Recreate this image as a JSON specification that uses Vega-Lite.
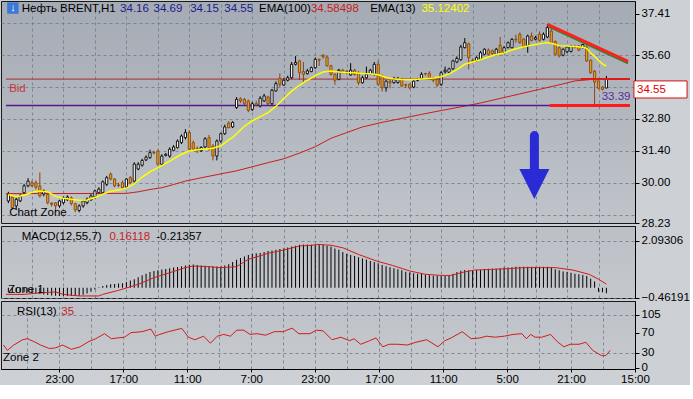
{
"$schema": "https://vega.github.io/schema/vega-lite/v6.json",
"padding": 0,
"background": "#cdd0d5",
"spacing": 3,
"bounds": "flush",
"resolve": {"scale": {"x": "independent", "y": "independent", "color": "independent"}, "axis": {"x": "independent", "y": "independent"}},
"config": {
  "view": {"stroke": "#1a1a1a", "strokeWidth": 1},
  "axis": {"labelFont": "Liberation Sans", "labelFontSize": 11.5, "labelColor": "#000000", "domainColor": "#000000", "tickColor": "#000000", "title": null},
  "text": {"font": "Liberation Sans", "fontSize": 11.5}
},
"datasets": {
"candles": [
{"i":0,"o":29.20,"h":29.60,"l":29.10,"c":29.49},{"i":1,"o":29.37,"h":29.45,"l":28.80,"c":28.90},{"i":2,"o":28.98,"h":29.35,"l":28.85,"c":29.27},{"i":3,"o":29.20,"h":29.50,"l":29.15,"c":29.42},{"i":4,"o":29.56,"h":29.95,"l":29.50,"c":29.86},{"i":5,"o":29.86,"h":30.20,"l":29.80,"c":30.07},{"i":6,"o":30.00,"h":30.10,"l":29.80,"c":29.86},{"i":7,"o":30.00,"h":30.10,"l":29.70,"c":29.80},{"i":8,"o":29.86,"h":30.45,"l":29.35,"c":29.42},{"i":9,"o":29.50,"h":29.70,"l":29.40,"c":29.64},
{"i":10,"o":29.49,"h":29.55,"l":29.05,"c":29.12},{"i":11,"o":29.10,"h":29.15,"l":28.95,"c":29.05},{"i":12,"o":29.12,"h":29.15,"l":28.70,"c":28.98},{"i":13,"o":28.98,"h":29.25,"l":28.90,"c":29.20},{"i":14,"o":29.12,"h":29.40,"l":29.05,"c":29.33},{"i":15,"o":29.25,"h":29.45,"l":29.20,"c":29.37},{"i":16,"o":29.33,"h":29.40,"l":29.00,"c":29.08},{"i":17,"o":29.08,"h":29.12,"l":28.70,"c":28.80},{"i":18,"o":28.78,"h":29.05,"l":28.70,"c":28.98},{"i":19,"o":28.98,"h":29.25,"l":28.90,"c":29.20},
{"i":20,"o":29.12,"h":29.35,"l":29.05,"c":29.27},{"i":21,"o":29.25,"h":29.50,"l":29.20,"c":29.42},{"i":22,"o":29.37,"h":29.70,"l":29.30,"c":29.64},{"i":23,"o":29.56,"h":29.80,"l":29.50,"c":29.72},{"i":24,"o":29.56,"h":30.10,"l":29.50,"c":30.04},{"i":25,"o":29.93,"h":30.30,"l":29.85,"c":30.22},{"i":26,"o":30.38,"h":30.45,"l":30.10,"c":30.16},{"i":27,"o":30.16,"h":30.20,"l":29.80,"c":29.86},{"i":28,"o":29.90,"h":30.00,"l":29.80,"c":29.88},{"i":29,"o":30.00,"h":30.10,"l":29.70,"c":29.78},
{"i":30,"o":29.81,"h":30.20,"l":29.75,"c":30.16},{"i":31,"o":30.22,"h":30.30,"l":29.95,"c":30.00},{"i":32,"o":30.07,"h":30.90,"l":30.00,"c":30.82},{"i":33,"o":30.60,"h":30.90,"l":30.55,"c":30.81},{"i":34,"o":30.77,"h":31.05,"l":30.70,"c":30.98},{"i":35,"o":31.00,"h":31.20,"l":30.95,"c":31.12},{"i":36,"o":31.10,"h":31.45,"l":31.05,"c":31.32},{"i":37,"o":31.33,"h":31.40,"l":31.25,"c":31.30},{"i":38,"o":31.39,"h":31.45,"l":30.75,"c":30.81},{"i":39,"o":30.81,"h":31.25,"l":30.75,"c":31.17},
{"i":40,"o":31.20,"h":31.30,"l":31.15,"c":31.25},{"i":41,"o":31.17,"h":31.55,"l":31.10,"c":31.47},{"i":42,"o":31.42,"h":31.65,"l":31.38,"c":31.57},{"i":43,"o":31.54,"h":31.90,"l":31.50,"c":31.83},{"i":44,"o":31.76,"h":32.12,"l":31.70,"c":32.05},{"i":45,"o":31.98,"h":32.35,"l":31.90,"c":32.20},{"i":46,"o":32.20,"h":32.30,"l":31.40,"c":31.47},{"i":47,"o":31.76,"h":31.85,"l":31.40,"c":31.47},{"i":48,"o":31.50,"h":31.60,"l":31.30,"c":31.40},{"i":49,"o":31.40,"h":31.60,"l":31.35,"c":31.55},
{"i":50,"o":31.57,"h":32.00,"l":31.50,"c":31.93},{"i":51,"o":31.98,"h":32.10,"l":31.40,"c":31.54},{"i":52,"o":31.61,"h":31.70,"l":30.98,"c":31.17},{"i":53,"o":31.17,"h":31.90,"l":30.98,"c":31.83},{"i":54,"o":31.83,"h":32.20,"l":31.75,"c":32.15},{"i":55,"o":32.15,"h":32.55,"l":32.10,"c":32.45},{"i":56,"o":32.62,"h":32.70,"l":32.38,"c":32.42},{"i":57,"o":32.45,"h":32.70,"l":32.40,"c":32.65},{"i":58,"o":33.30,"h":33.76,"l":33.24,"c":33.66},{"i":59,"o":33.69,"h":33.75,"l":33.50,"c":33.59},
{"i":60,"o":33.66,"h":33.72,"l":33.40,"c":33.47},{"i":61,"o":33.59,"h":33.65,"l":33.10,"c":33.18},{"i":62,"o":33.22,"h":33.55,"l":33.15,"c":33.47},{"i":63,"o":33.47,"h":33.60,"l":33.35,"c":33.41},{"i":64,"o":33.37,"h":33.80,"l":33.30,"c":33.71},{"i":65,"o":33.59,"h":33.90,"l":33.55,"c":33.81},{"i":66,"o":33.76,"h":33.82,"l":33.40,"c":33.47},{"i":67,"o":33.47,"h":34.12,"l":33.40,"c":34.06},{"i":68,"o":34.03,"h":34.45,"l":34.00,"c":34.35},{"i":69,"o":34.58,"h":34.80,"l":34.20,"c":34.32},
{"i":70,"o":34.29,"h":34.60,"l":34.25,"c":34.50},{"i":71,"o":34.50,"h":34.70,"l":34.45,"c":34.61},{"i":72,"o":34.61,"h":35.30,"l":34.55,"c":35.20},{"i":73,"o":35.20,"h":35.56,"l":35.15,"c":35.28},{"i":74,"o":35.35,"h":35.40,"l":34.51,"c":34.83},{"i":75,"o":34.88,"h":35.30,"l":34.40,"c":34.76},{"i":76,"o":34.79,"h":35.00,"l":34.75,"c":34.91},{"i":77,"o":34.88,"h":35.10,"l":34.85,"c":35.05},{"i":78,"o":35.05,"h":35.50,"l":35.00,"c":35.42},{"i":79,"o":35.42,"h":35.45,"l":35.13,"c":35.38},
{"i":80,"o":35.60,"h":35.65,"l":35.45,"c":35.52},{"i":81,"o":35.52,"h":35.56,"l":35.10,"c":35.13},{"i":82,"o":35.13,"h":35.18,"l":34.70,"c":34.76},{"i":83,"o":34.76,"h":34.80,"l":34.30,"c":34.50},{"i":84,"o":34.54,"h":35.00,"l":34.50,"c":34.94},{"i":85,"o":34.94,"h":35.00,"l":34.80,"c":34.85},{"i":86,"o":34.90,"h":34.95,"l":34.75,"c":34.87},{"i":87,"o":34.73,"h":35.25,"l":34.70,"c":34.94},{"i":88,"o":34.94,"h":35.00,"l":34.70,"c":34.76},{"i":89,"o":34.83,"h":34.90,"l":34.30,"c":34.39},
{"i":90,"o":34.39,"h":34.70,"l":34.35,"c":34.61},{"i":91,"o":34.61,"h":35.10,"l":34.55,"c":34.76},{"i":92,"o":34.78,"h":35.00,"l":34.75,"c":34.94},{"i":93,"o":34.76,"h":35.30,"l":34.70,"c":35.20},{"i":94,"o":35.20,"h":35.35,"l":34.25,"c":34.32},{"i":95,"o":34.68,"h":34.75,"l":34.00,"c":34.17},{"i":96,"o":34.17,"h":34.50,"l":34.00,"c":34.46},{"i":97,"o":34.46,"h":34.50,"l":34.15,"c":34.39},{"i":98,"o":34.39,"h":34.65,"l":34.35,"c":34.53},{"i":99,"o":34.40,"h":34.65,"l":34.35,"c":34.53},
{"i":100,"o":34.54,"h":34.60,"l":34.20,"c":34.25},{"i":101,"o":34.30,"h":34.35,"l":34.15,"c":34.28},{"i":102,"o":34.32,"h":34.35,"l":34.10,"c":34.17},{"i":103,"o":34.20,"h":34.50,"l":34.15,"c":34.46},{"i":104,"o":34.50,"h":34.58,"l":34.45,"c":34.52},{"i":105,"o":34.58,"h":34.85,"l":34.55,"c":34.76},{"i":106,"o":34.80,"h":34.82,"l":34.70,"c":34.78},{"i":107,"o":34.80,"h":34.90,"l":34.55,"c":34.60},{"i":108,"o":34.60,"h":34.65,"l":34.40,"c":34.50},{"i":109,"o":34.54,"h":34.60,"l":34.20,"c":34.29},
{"i":110,"o":34.32,"h":34.90,"l":34.25,"c":34.83},{"i":111,"o":34.87,"h":35.10,"l":34.80,"c":34.94},{"i":112,"o":34.85,"h":35.05,"l":34.80,"c":35.00},{"i":113,"o":35.00,"h":35.40,"l":34.95,"c":35.35},{"i":114,"o":35.30,"h":35.55,"l":35.25,"c":35.46},{"i":115,"o":35.40,"h":36.05,"l":35.35,"c":35.96},{"i":116,"o":35.93,"h":36.35,"l":35.90,"c":36.15},{"i":117,"o":36.10,"h":36.15,"l":34.98,"c":35.50},{"i":118,"o":35.37,"h":35.45,"l":35.25,"c":35.33},{"i":119,"o":35.35,"h":35.55,"l":35.30,"c":35.49},
{"i":120,"o":35.42,"h":35.78,"l":35.38,"c":35.71},{"i":121,"o":35.64,"h":35.90,"l":35.60,"c":35.86},{"i":122,"o":35.82,"h":35.90,"l":35.60,"c":35.64},{"i":123,"o":35.79,"h":35.85,"l":35.60,"c":35.67},{"i":124,"o":35.64,"h":35.92,"l":35.60,"c":35.86},{"i":125,"o":36.03,"h":36.40,"l":35.65,"c":35.71},{"i":126,"o":35.71,"h":36.00,"l":35.65,"c":35.93},{"i":127,"o":35.93,"h":36.20,"l":35.90,"c":36.15},{"i":128,"o":35.93,"h":36.35,"l":35.90,"c":36.30},{"i":129,"o":36.30,"h":36.50,"l":36.15,"c":36.28},
{"i":130,"o":36.52,"h":36.60,"l":36.10,"c":36.15},{"i":131,"o":36.30,"h":36.35,"l":35.90,"c":35.96},{"i":132,"o":36.00,"h":36.50,"l":35.71,"c":36.44},{"i":133,"o":36.44,"h":36.60,"l":36.20,"c":36.25},{"i":134,"o":36.30,"h":36.45,"l":36.25,"c":36.37},{"i":135,"o":36.52,"h":36.65,"l":36.20,"c":36.25},{"i":136,"o":36.30,"h":36.60,"l":36.25,"c":36.52},{"i":137,"o":36.40,"h":36.96,"l":36.35,"c":36.81},{"i":138,"o":36.66,"h":36.80,"l":36.10,"c":36.15},{"i":139,"o":36.20,"h":36.25,"l":35.60,"c":35.64},
{"i":140,"o":35.93,"h":36.00,"l":35.50,"c":35.57},{"i":141,"o":35.60,"h":35.90,"l":35.55,"c":35.86},{"i":142,"o":35.75,"h":36.00,"l":35.70,"c":35.96},{"i":143,"o":35.76,"h":36.05,"l":35.72,"c":36.00},{"i":144,"o":36.00,"h":36.05,"l":35.90,"c":35.95},{"i":145,"o":36.00,"h":36.05,"l":35.78,"c":35.82},{"i":146,"o":35.93,"h":36.10,"l":35.90,"c":36.07},{"i":147,"o":35.95,"h":36.05,"l":35.30,"c":35.35},{"i":148,"o":35.38,"h":35.42,"l":34.78,"c":34.83},{"i":149,"o":34.90,"h":34.95,"l":33.39,"c":34.42},
{"i":150,"o":34.47,"h":34.50,"l":34.10,"c":34.15},{"i":151,"o":34.20,"h":34.25,"l":34.05,"c":34.10},{"i":152,"o":34.16,"h":34.69,"l":34.15,"c":34.55}
],
"ema13": [
{"i":0,"v":29.48},{"i":2,"v":29.38},{"i":4,"v":29.45},{"i":6,"v":29.58},{"i":8,"v":29.64},{"i":10,"v":29.6},{"i":12,"v":29.4},{"i":14,"v":29.32},{"i":16,"v":29.27},{"i":18,"v":29.23},{"i":20,"v":29.24},{"i":22,"v":29.35},{"i":24,"v":29.5},{"i":26,"v":29.62},{"i":28,"v":29.68},{"i":30,"v":29.76},{"i":32,"v":29.95},{"i":34,"v":30.25},{"i":36,"v":30.48},{"i":38,"v":30.65},{"i":40,"v":30.85},{"i":42,"v":31.05},{"i":44,"v":31.25},{"i":46,"v":31.39},{"i":48,"v":31.45},{"i":50,"v":31.48},{"i":52,"v":31.51},{"i":54,"v":31.62},{"i":56,"v":31.88},{"i":57,"v":31.98},{"i":58,"v":32.15},{"i":60,"v":32.48},{"i":62,"v":32.72},{"i":64,"v":32.9},{"i":66,"v":33.08},{"i":68,"v":33.35},{"i":70,"v":33.7},{"i":72,"v":34.02},{"i":74,"v":34.28},{"i":76,"v":34.5},{"i":78,"v":34.7},{"i":80,"v":34.86},{"i":82,"v":34.9},{"i":84,"v":34.86},{"i":86,"v":34.84},{"i":88,"v":34.83},{"i":90,"v":34.8},{"i":92,"v":34.78},{"i":94,"v":34.74},{"i":96,"v":34.62},{"i":98,"v":34.55},{"i":100,"v":34.53},{"i":102,"v":34.52},{"i":104,"v":34.54},{"i":106,"v":34.57},{"i":108,"v":34.6},{"i":110,"v":34.65},{"i":112,"v":34.78},{"i":114,"v":34.97},{"i":116,"v":35.2},{"i":118,"v":35.3},{"i":120,"v":35.4},{"i":122,"v":35.52},{"i":124,"v":35.63},{"i":126,"v":35.7},{"i":128,"v":35.83},{"i":130,"v":35.93},{"i":132,"v":36.0},{"i":134,"v":36.07},{"i":136,"v":36.13},{"i":137,"v":36.16},{"i":138,"v":36.12},{"i":140,"v":36.02},{"i":142,"v":36.0},{"i":144,"v":35.98},{"i":146,"v":35.95},{"i":147,"v":35.9},{"i":148,"v":35.7},{"i":149,"v":35.55},{"i":150,"v":35.38},{"i":151,"v":35.22},{"i":152,"v":35.12}
],
"ema100": [
{"i":-0.6,"v":29.52},{"i":30,"v":29.53},{"i":33,"v":29.6},{"i":36,"v":29.7},{"i":39,"v":29.78},{"i":42,"v":29.92},{"i":45,"v":30.07},{"i":50,"v":30.25},{"i":55,"v":30.42},{"i":58,"v":30.52},{"i":62,"v":30.7},{"i":66,"v":30.88},{"i":70,"v":31.05},{"i":74,"v":31.3},{"i":78,"v":31.58},{"i":82,"v":31.95},{"i":86,"v":32.2},{"i":90,"v":32.45},{"i":95,"v":32.65},{"i":101,"v":32.86},{"i":105,"v":33.0},{"i":110,"v":33.17},{"i":115,"v":33.33},{"i":120,"v":33.5},{"i":125,"v":33.7},{"i":130,"v":33.9},{"i":135,"v":34.1},{"i":140,"v":34.3},{"i":144,"v":34.47},{"i":148,"v":34.53},{"i":152,"v":34.58}
],
"segs": [
{"id":"bid","i":-0.6,"p":34.55},{"id":"bid","i":158,"p":34.55},
{"id":"low","i":-0.6,"p":33.39},{"id":"low","i":158,"p":33.39},
{"id":"bidseg","i":145.5,"p":34.55},{"id":"bidseg","i":158,"p":34.55},
{"id":"support","i":137.6,"p":33.39},{"id":"support","i":158,"p":33.39},
{"id":"shadow","i":137.3,"p":36.87},{"id":"shadow","i":157.5,"p":35.25},
{"id":"trend","i":137,"p":36.95},{"id":"trend","i":157.5,"p":35.33}
],
"arrow": [{"i":133.7,"top":32.07,"bot":30.55,"head":29.94}],
"icon": [{"i":1.15,"p":37.67}],
"box": [{"i1":159.0,"i2":172.5,"p1":34.47,"p2":33.72}],
"texts1": [
{"i":3.4,"p":37.63,"t":"Нефть BRENT,H1","k":"black"},
{"i":28.4,"p":37.63,"t":"34.16","k":"navy"},
{"i":36.9,"p":37.63,"t":"34.69","k":"navy"},
{"i":46.2,"p":37.63,"t":"34.15","k":"navy"},
{"i":54.9,"p":37.63,"t":"34.55","k":"navy"},
{"i":63.7,"p":37.63,"t":"EMA(100)","k":"black"},
{"i":76.9,"p":37.63,"t":"34.58498","k":"red"},
{"i":92.0,"p":37.63,"t":"EMA(13)","k":"black"},
{"i":105.0,"p":37.63,"t":"35.12402","k":"yellow"},
{"i":0.2,"p":34.11,"t":"Bid","k":"bid"},
{"i":0.2,"p":28.67,"t":"Chart Zone","k":"black"},
{"i":150.8,"p":33.76,"t":"33.39","k":"purple"},
{"i":159.8,"p":34.09,"t":"34.55","k":"boxred"}
],
"macd": [
{"i":0,"h":-0.18},{"i":1,"h":-0.2},{"i":2,"h":-0.22},{"i":3,"h":-0.22},{"i":4,"h":-0.2},{"i":5,"h":-0.2},{"i":6,"h":-0.22},{"i":7,"h":-0.25},{"i":8,"h":-0.28},{"i":9,"h":-0.3},{"i":10,"h":-0.33},{"i":11,"h":-0.35},{"i":12,"h":-0.36},{"i":13,"h":-0.37},{"i":14,"h":-0.37},{"i":15,"h":-0.37},{"i":16,"h":-0.37},{"i":17,"h":-0.37},{"i":18,"h":-0.36},{"i":19,"h":-0.32},{"i":20,"h":-0.26},{"i":21,"h":-0.18},{"i":22,"h":-0.08},{"i":23,"h":0.02},{"i":24,"h":0.08},{"i":25,"h":0.12},{"i":26,"h":0.15},{"i":27,"h":0.17},{"i":28,"h":0.19},{"i":29,"h":0.2},
{"i":30,"h":0.25},{"i":31,"h":0.32},{"i":32,"h":0.38},{"i":33,"h":0.47},{"i":34,"h":0.56},{"i":35,"h":0.63},{"i":36,"h":0.7},{"i":37,"h":0.75},{"i":38,"h":0.78},{"i":39,"h":0.82},{"i":40,"h":0.84},{"i":41,"h":0.87},{"i":42,"h":0.9},{"i":43,"h":0.93},{"i":44,"h":0.96},{"i":45,"h":1.0},{"i":46,"h":1.03},{"i":47,"h":1.04},{"i":48,"h":1.02},{"i":49,"h":1.0},{"i":50,"h":0.98},{"i":51,"h":0.97},{"i":52,"h":0.96},{"i":53,"h":0.95},{"i":54,"h":0.95},{"i":55,"h":1.0},{"i":56,"h":1.05},{"i":57,"h":1.15},{"i":58,"h":1.25},{"i":59,"h":1.33},
{"i":60,"h":1.4},{"i":61,"h":1.47},{"i":62,"h":1.52},{"i":63,"h":1.54},{"i":64,"h":1.56},{"i":65,"h":1.6},{"i":66,"h":1.64},{"i":67,"h":1.67},{"i":68,"h":1.7},{"i":69,"h":1.73},{"i":70,"h":1.76},{"i":71,"h":1.8},{"i":72,"h":1.85},{"i":73,"h":1.88},{"i":74,"h":1.92},{"i":75,"h":1.94},{"i":76,"h":1.94},{"i":77,"h":1.93},{"i":78,"h":1.94},{"i":79,"h":1.95},{"i":80,"h":1.92},{"i":81,"h":1.88},{"i":82,"h":1.83},{"i":83,"h":1.76},{"i":84,"h":1.7},{"i":85,"h":1.6},{"i":86,"h":1.52},{"i":87,"h":1.46},{"i":88,"h":1.42},{"i":89,"h":1.36},
{"i":90,"h":1.31},{"i":91,"h":1.26},{"i":92,"h":1.2},{"i":93,"h":1.15},{"i":94,"h":1.09},{"i":95,"h":1.02},{"i":96,"h":0.96},{"i":97,"h":0.92},{"i":98,"h":0.87},{"i":99,"h":0.83},{"i":100,"h":0.78},{"i":101,"h":0.72},{"i":102,"h":0.68},{"i":103,"h":0.65},{"i":104,"h":0.63},{"i":105,"h":0.61},{"i":106,"h":0.58},{"i":107,"h":0.56},{"i":108,"h":0.54},{"i":109,"h":0.53},{"i":110,"h":0.52},{"i":111,"h":0.52},{"i":112,"h":0.55},{"i":113,"h":0.62},{"i":114,"h":0.7},{"i":115,"h":0.76},{"i":116,"h":0.79},{"i":117,"h":0.78},{"i":118,"h":0.78},{"i":119,"h":0.79},
{"i":120,"h":0.8},{"i":121,"h":0.84},{"i":122,"h":0.85},{"i":123,"h":0.85},{"i":124,"h":0.85},{"i":125,"h":0.87},{"i":126,"h":0.9},{"i":127,"h":0.9},{"i":128,"h":0.92},{"i":129,"h":0.94},{"i":130,"h":0.94},{"i":131,"h":0.94},{"i":132,"h":0.94},{"i":133,"h":0.94},{"i":134,"h":0.94},{"i":135,"h":0.94},{"i":136,"h":0.94},{"i":137,"h":0.94},{"i":138,"h":0.9},{"i":139,"h":0.83},{"i":140,"h":0.78},{"i":141,"h":0.73},{"i":142,"h":0.7},{"i":143,"h":0.67},{"i":144,"h":0.63},{"i":145,"h":0.6},{"i":146,"h":0.57},{"i":147,"h":0.52},{"i":148,"h":0.4},{"i":149,"h":0.28},
{"i":150,"h":-0.18},{"i":151,"h":-0.2},{"i":152,"h":-0.25}
],
"signal": [
{"i":-0.6,"v":-0.3},{"i":4,"v":-0.3},{"i":9,"v":-0.22},{"i":12,"v":-0.19},{"i":14,"v":-0.3},{"i":18,"v":-0.37},{"i":23,"v":-0.37},{"i":24,"v":-0.3},{"i":28,"v":-0.12},{"i":33,"v":0.15},{"i":37,"v":0.45},{"i":41,"v":0.67},{"i":45,"v":0.9},{"i":47,"v":0.97},{"i":51,"v":0.94},{"i":54,"v":0.9},{"i":58,"v":0.94},{"i":61,"v":1.27},{"i":66,"v":1.54},{"i":70,"v":1.69},{"i":74,"v":1.87},{"i":77,"v":1.9},{"i":79,"v":1.94},{"i":82,"v":1.9},{"i":85,"v":1.79},{"i":89,"v":1.49},{"i":93.5,"v":1.2},{"i":97.6,"v":1.0},{"i":102,"v":0.75},{"i":106,"v":0.6},{"i":110,"v":0.55},{"i":112.6,"v":0.55},{"i":115,"v":0.67},{"i":118.5,"v":0.79},{"i":122.6,"v":0.82},{"i":126.8,"v":0.85},{"i":131,"v":0.9},{"i":135,"v":0.9},{"i":139,"v":0.9},{"i":143.5,"v":0.79},{"i":147.6,"v":0.6},{"i":150,"v":0.38},{"i":152,"v":0.16}
],
"texts2": [
{"i":3.4,"v":2.27,"t":"MACD(12,55,7)","k":"black"},
{"i":25.7,"v":2.27,"t":"0.16118","k":"red"},
{"i":37.6,"v":2.27,"t":"-0.21357","k":"black"},
{"i":-0.1,"v":-0.1,"t":"Zone 1","k":"black"}
],
"rsi": [
{"i":0,"v":45.5},{"i":1,"v":35},{"i":2.6,"v":45.5},{"i":4.8,"v":56},{"i":6,"v":58},{"i":7.6,"v":52.5},{"i":9.3,"v":45.5},{"i":11.5,"v":38.5},{"i":13.1,"v":40},{"i":14.8,"v":45.5},{"i":17,"v":37},{"i":19.2,"v":42},{"i":21.4,"v":52.5},{"i":23.1,"v":58},{"i":25.3,"v":68},{"i":27,"v":58},{"i":28.6,"v":59.5},{"i":30.3,"v":61},{"i":31.9,"v":70},{"i":34.7,"v":72},{"i":36.9,"v":77},{"i":38,"v":63},{"i":39.1,"v":66.5},{"i":41.3,"v":72},{"i":44.6,"v":78.5},{"i":46.3,"v":61},{"i":47.9,"v":56},{"i":50.1,"v":63},{"i":51.8,"v":49},{"i":53.5,"v":63},{"i":55.1,"v":66.5},{"i":56.8,"v":63},{"i":58.4,"v":75},{"i":60.1,"v":75},{"i":61.7,"v":66.5},{"i":63.4,"v":68},{"i":65.6,"v":65},{"i":67.8,"v":72},{"i":70,"v":72},{"i":72.2,"v":79},{"i":73.9,"v":68},{"i":76.7,"v":68},{"i":78.3,"v":75},{"i":80,"v":73.5},{"i":82.2,"v":56},{"i":84.4,"v":61},{"i":86.6,"v":54},{"i":87.7,"v":58},{"i":89.4,"v":47},{"i":91.6,"v":54},{"i":93.2,"v":59.5},{"i":94.9,"v":42},{"i":96.5,"v":47},{"i":98.7,"v":47},{"i":101,"v":45.5},{"i":103.2,"v":51},{"i":105.9,"v":56},{"i":108.7,"v":42},{"i":110.4,"v":54},{"i":112,"v":59.5},{"i":114.8,"v":72},{"i":117,"v":58},{"i":119.2,"v":59.5},{"i":120.8,"v":63},{"i":123.1,"v":61},{"i":125.3,"v":63},{"i":127.5,"v":66.5},{"i":129.7,"v":68},{"i":130.8,"v":58},{"i":131.9,"v":66.5},{"i":133,"v":61},{"i":134.7,"v":61},{"i":136.9,"v":66.5},{"i":138.5,"v":52.5},{"i":140.2,"v":42},{"i":141.8,"v":47},{"i":144,"v":47},{"i":145.7,"v":51},{"i":147.4,"v":35},{"i":149.6,"v":24.5},{"i":150.7,"v":24.5},{"i":151.8,"v":35}
],
"texts3": [
{"i":3.4,"v":110.9,"t":"RSI(13)","k":"black"},
{"i":14.5,"v":110.9,"t":"35","k":"red"},
{"i":-0.1,"v":19.8,"t":"Zone 2","k":"black"}
]
},
"vconcat": [
{
"width": 634, "height": 222,
"view": {"fill": {"gradient": "linear", "x1": 0, "y1": 0, "x2": 0, "y2": 1, "stops": [{"offset": 0, "color": "#a5abb4"}, {"offset": 1, "color": "#c0c4ca"}]}},
"resolve": {"axis": {"x": "independent", "y": "independent"}, "scale": {"color": "independent"}},
"layer": [
{"data": {"name": "candles"}, "mark": {"type": "rule", "strokeWidth": 1},
 "encoding": {
  "x": {"field": "i", "type": "quantitative", "scale": {"domain": [-0.6, 158], "nice": false, "zero": false},
        "axis": {"orient": "top", "grid": true, "values": [6,14,22,30,38,46,54,62,70,78,86,94,102,110,118,126,134,142,150], "labels": false, "ticks": false, "domain": false, "gridDash": [3,3], "gridColor": "#6f7987", "gridOpacity": 0.8}},
  "y": {"field": "l", "type": "quantitative", "scale": {"domain": [28.23, 37.98], "nice": false, "zero": false},
        "axis": {"orient": "left", "grid": true, "values": [28.6,30,31.4,32.8,34.2,35.6,37.0], "labels": false, "ticks": false, "domain": false, "gridDash": [3,3], "gridColor": "#6f7987", "gridOpacity": 0.8}},
  "y2": {"field": "h"},
  "color": {"condition": {"test": "datum.c >= datum.o", "value": "#000000"}, "value": "#8b4513"}
 }},
{"data": {"name": "ema100"}, "mark": {"type": "line", "strokeWidth": 1, "color": "#c81e1e"},
 "encoding": {"x": {"field": "i", "type": "quantitative", "axis": null}, "y": {"field": "v", "type": "quantitative", "axis": null}}},
{"data": {"name": "segs"}, "transform": [{"filter": {"field": "id", "equal": "bid"}}], "mark": {"type": "line", "strokeWidth": 1, "color": "#a52a2a"},
 "encoding": {"x": {"field": "i", "type": "quantitative", "axis": null}, "y": {"field": "p", "type": "quantitative", "axis": null}}},
{"data": {"name": "segs"}, "transform": [{"filter": {"field": "id", "equal": "low"}}], "mark": {"type": "line", "strokeWidth": 1.5, "color": "#55168f"},
 "encoding": {"x": {"field": "i", "type": "quantitative", "axis": null}, "y": {"field": "p", "type": "quantitative", "axis": null}}},
{"data": {"name": "candles"}, "mark": {"type": "bar", "size": 2.2, "strokeWidth": 0.9},
 "encoding": {
  "x": {"field": "i", "type": "quantitative", "axis": null},
  "y": {"field": "o", "type": "quantitative",
        "axis": {"orient": "right", "values": [28.23,30,31.4,32.8,35.6,37.41], "format": ".2f", "grid": false, "tickSize": 4, "labelPadding": 2, "labelFlush": false, "labelOverlap": false}},
  "y2": {"field": "c"},
  "fill": {"condition": {"test": "datum.c >= datum.o", "value": "#ffffff"}, "value": "#e2a21c"},
  "stroke": {"condition": {"test": "datum.c >= datum.o", "value": "#000000"}, "value": "#8b4513"}
 }},
{"data": {"name": "ema13"}, "mark": {"type": "line", "strokeWidth": 1.5, "color": "#ffff00"},
 "encoding": {"x": {"field": "i", "type": "quantitative", "axis": null}, "y": {"field": "v", "type": "quantitative", "axis": null}}},
{"data": {"name": "segs"}, "transform": [{"filter": {"field": "id", "equal": "bidseg"}}], "mark": {"type": "line", "strokeWidth": 2, "color": "#e01818"},
 "encoding": {"x": {"field": "i", "type": "quantitative", "axis": null}, "y": {"field": "p", "type": "quantitative", "axis": null}}},
{"data": {"name": "segs"}, "transform": [{"filter": {"field": "id", "equal": "support"}}], "mark": {"type": "line", "strokeWidth": 3, "color": "#ff1a1a"},
 "encoding": {"x": {"field": "i", "type": "quantitative", "axis": null}, "y": {"field": "p", "type": "quantitative", "axis": null}}},
{"data": {"name": "segs"}, "transform": [{"filter": {"field": "id", "equal": "shadow"}}], "mark": {"type": "line", "strokeWidth": 2.5, "color": "#2a8a2a"},
 "encoding": {"x": {"field": "i", "type": "quantitative", "axis": null}, "y": {"field": "p", "type": "quantitative", "axis": null}}},
{"data": {"name": "segs"}, "transform": [{"filter": {"field": "id", "equal": "trend"}}], "mark": {"type": "line", "strokeWidth": 3, "color": "#ff1f1f"},
 "encoding": {"x": {"field": "i", "type": "quantitative", "axis": null}, "y": {"field": "p", "type": "quantitative", "axis": null}}},
{"data": {"name": "arrow"}, "mark": {"type": "rule", "strokeWidth": 9, "strokeCap": "round", "color": "#2b2bd6"},
 "encoding": {"x": {"field": "i", "type": "quantitative", "axis": null}, "y": {"field": "top", "type": "quantitative", "axis": null}, "y2": {"field": "bot"}}},
{"data": {"name": "arrow"}, "mark": {"type": "point", "shape": "M-1,-1L1,-1L0,1Z", "size": 900, "filled": true, "opacity": 1, "color": "#2b2bd6"},
 "encoding": {"x": {"field": "i", "type": "quantitative", "axis": null}, "y": {"field": "head", "type": "quantitative", "axis": null}}},
{"data": {"name": "icon"}, "mark": {"type": "square", "size": 130, "filled": true, "opacity": 1, "color": "#3c78d8"},
 "encoding": {"x": {"field": "i", "type": "quantitative", "axis": null}, "y": {"field": "p", "type": "quantitative", "axis": null}}},
{"data": {"name": "icon"}, "mark": {"type": "text", "text": "↓", "color": "#ffffff", "fontWeight": "bold", "fontSize": 11, "baseline": "middle", "align": "center"},
 "encoding": {"x": {"field": "i", "type": "quantitative", "axis": null}, "y": {"field": "p", "type": "quantitative", "axis": null}}},
{"data": {"name": "box"}, "mark": {"type": "rect", "fill": "#ffffff", "stroke": "#d01010", "strokeWidth": 1},
 "encoding": {"x": {"field": "i1", "type": "quantitative", "axis": null}, "x2": {"field": "i2"}, "y": {"field": "p1", "type": "quantitative", "axis": null}, "y2": {"field": "p2"}}},
{"data": {"name": "texts1"}, "mark": {"type": "text", "align": "left", "baseline": "middle"},
 "encoding": {
  "x": {"field": "i", "type": "quantitative", "axis": null},
  "y": {"field": "p", "type": "quantitative", "axis": null},
  "text": {"field": "t"},
  "color": {"field": "k", "type": "nominal", "legend": null, "scale": {"domain": ["black","navy","red","yellow","bid","purple","boxred"], "range": ["#000000","#1a1a8c","#c81e1e","#ffff00","#c03a3a","#5b2a9e","#e00000"]}}
 }}
]
},
{
"width": 634, "height": 72,
"view": {"fill": {"gradient": "linear", "x1": 0, "y1": 0, "x2": 0, "y2": 1, "stops": [{"offset": 0, "color": "#bcc0c6"}, {"offset": 1, "color": "#c4c8cd"}]}},
"resolve": {"axis": {"x": "independent", "y": "independent"}},
"layer": [
{"data": {"name": "macd"}, "mark": {"type": "bar", "size": 1, "color": "#000000"},
 "encoding": {
  "x": {"field": "i", "type": "quantitative", "scale": {"domain": [-0.6, 158], "nice": false, "zero": false},
        "axis": {"orient": "top", "grid": true, "values": [6,14,22,30,38,46,54,62,70,78,86,94,102,110,118,126,134,142,150], "labels": false, "ticks": false, "domain": false, "gridDash": [3,3], "gridColor": "#6f7987", "gridOpacity": 0.8}},
  "y": {"field": "h", "type": "quantitative", "scale": {"domain": [-0.462, 2.765], "nice": false, "zero": false},
        "axis": {"orient": "right", "values": [-0.46191, 2.09306], "format": ".5f", "grid": false, "tickSize": 4, "labelPadding": 2, "labelFlush": false, "labelOverlap": false}},
  "y2": {"datum": 0}
 }},
{"data": {"name": "signal"}, "mark": {"type": "line", "strokeWidth": 1, "color": "#d01c1c"},
 "encoding": {
  "x": {"field": "i", "type": "quantitative", "axis": null},
  "y": {"field": "v", "type": "quantitative",
        "axis": {"orient": "left", "grid": true, "values": [-0.46191, 2.09306], "labels": false, "ticks": false, "domain": false, "gridDash": [3,3], "gridColor": "#6f7987", "gridOpacity": 0.8}}
 }},
{"data": {"name": "texts2"}, "mark": {"type": "text", "align": "left", "baseline": "middle"},
 "encoding": {
  "x": {"field": "i", "type": "quantitative", "axis": null},
  "y": {"field": "v", "type": "quantitative", "axis": null},
  "text": {"field": "t"},
  "color": {"field": "k", "type": "nominal", "legend": null, "scale": {"domain": ["black","red"], "range": ["#000000","#c81e1e"]}}
 }}
]
},
{
"width": 634, "height": 68,
"view": {"fill": {"gradient": "linear", "x1": 0, "y1": 0, "x2": 0, "y2": 1, "stops": [{"offset": 0, "color": "#bec2c8"}, {"offset": 1, "color": "#c6c9ce"}]}},
"resolve": {"axis": {"x": "independent", "y": "independent"}},
"layer": [
{"data": {"name": "rsi"}, "mark": {"type": "line", "strokeWidth": 1, "color": "#d01c1c"},
 "encoding": {
  "x": {"field": "i", "type": "quantitative", "scale": {"domain": [-0.6, 158], "nice": false, "zero": false},
        "axis": {"orient": "top", "grid": true, "values": [6,14,22,30,38,46,54,62,70,78,86,94,102,110,118,126,134,142,150], "labels": false, "ticks": false, "domain": false, "gridDash": [3,3], "gridColor": "#6f7987", "gridOpacity": 0.8}},
  "y": {"field": "v", "type": "quantitative", "scale": {"domain": [-2, 132.7], "nice": false, "zero": false},
        "axis": {"orient": "right", "values": [0, 30, 70, 105], "grid": false, "tickSize": 4, "labelPadding": 2, "labelFlush": false, "labelOverlap": false}}
 }},
{"data": {"name": "texts3"}, "mark": {"type": "text", "align": "left", "baseline": "middle"},
 "encoding": {
  "x": {"field": "i", "type": "quantitative",
        "axis": {"orient": "bottom", "values": [14,30,46,62,78,94,110,126,142,158], "labelExpr": "['23:00','17:00','11:00','7:00','23:00','17:00','11:00','5:00','21:00','15:00'][(datum.value-14)/16]", "grid": false, "tickSize": 3, "labelPadding": 1, "labelFlush": false, "labelOverlap": false}},
  "y": {"field": "v", "type": "quantitative",
        "axis": {"orient": "left", "grid": true, "values": [30, 105], "labels": false, "ticks": false, "domain": false, "gridDash": [3,3], "gridColor": "#6f7987", "gridOpacity": 0.8}},
  "text": {"field": "t"},
  "color": {"field": "k", "type": "nominal", "legend": null, "scale": {"domain": ["black","red"], "range": ["#000000","#c81e1e"]}}
 }}
]
}
]
}
